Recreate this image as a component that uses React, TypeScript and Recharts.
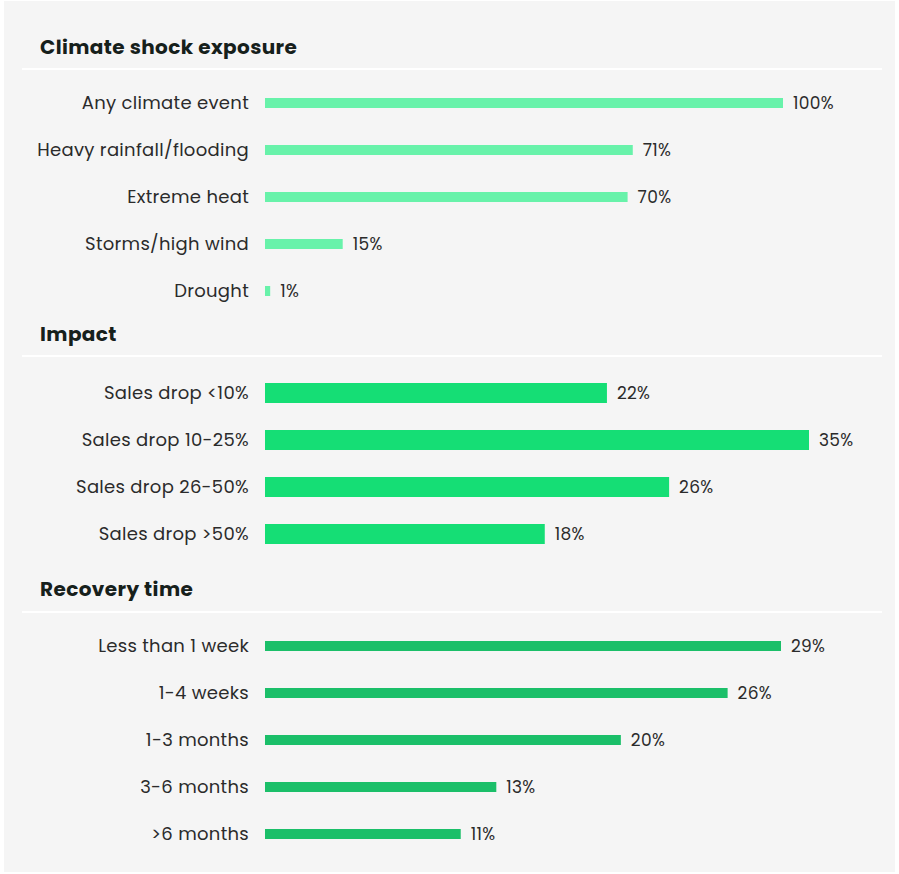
import React from 'react';
import { BarChart, Bar, XAxis, YAxis, LabelList } from 'recharts';

const exposureLabels = ['Any climate event', 'Heavy rainfall/flooding', 'Extreme heat', 'Storms/high wind', 'Drought'];
const exposureValues = [100, 71, 70, 15, 1];

const impactLabels = ['Sales drop <10%', 'Sales drop 10-25%', 'Sales drop 26-50%', 'Sales drop >50%'];
const impactValues = [22, 35, 26, 18];

const recoveryLabels = ['Less than 1 week', '1-4 weeks', '1-3 months', '3-6 months', '>6 months'];
const recoveryValues = [29, 26, 20, 13, 11];

const FONT = 'Poppins, Inter, "Noto Sans", sans-serif';
const TEXT = '#2b2b2b';

const toRows = (labels: string[], values: number[]) =>
  labels.map((name, i) => ({ name, value: values[i] }));

interface SectionProps {
  title: string;
  titleY: number;
  lineY: number;
  chartY: number;
  rows: { name: string; value: number }[];
  color: string;
  barSize: number;
  rightMargin: number;
}

const Section: React.FC<SectionProps> = ({ title, titleY, lineY, chartY, rows, color, barSize, rightMargin }) => {
  const height = rows.length * 47;
  return (
    <>
      <div
        style={{
          position: 'absolute',
          left: 40,
          top: titleY - 14,
          height: 28,
          lineHeight: '28px',
          fontFamily: FONT,
          fontWeight: 700,
          fontSize: 20,
          color: '#16201b',
          letterSpacing: 0.4,
        }}
      >
        {title}
      </div>
      <div style={{ position: 'absolute', left: 22, top: lineY - 1, width: 860, height: 2, background: '#ffffff' }} />
      <div style={{ position: 'absolute', left: 0, top: chartY }}>
        <BarChart
          width={899}
          height={height}
          data={rows}
          layout="vertical"
          margin={{ top: 0, right: rightMargin, bottom: 0, left: 0 }}
        >
          <XAxis type="number" hide domain={[0, 'dataMax']} />
          <YAxis
            type="category"
            dataKey="name"
            width={265}
            axisLine={false}
            tickLine={false}
            tickSize={0}
            tickMargin={16}
            interval={0}
            tick={{ fill: TEXT, fontSize: 18, fontFamily: FONT, letterSpacing: 0.3 }}
          />
          <Bar dataKey="value" fill={color} barSize={barSize} isAnimationActive={false}>
            <LabelList
              dataKey="value"
              position="right"
              offset={10}
              formatter={(v: number) => `${v}%`}
              style={{ fill: TEXT, fontSize: 17, fontFamily: FONT, letterSpacing: 0.3 }}
            />
          </Bar>
        </BarChart>
      </div>
    </>
  );
};

export default function App() {
  return (
    <div style={{ position: 'absolute', left: 0, top: 0, width: 899, height: 874, background: '#ffffff' }}>
      <div style={{ position: 'absolute', left: 4, top: 1, width: 891, height: 871, background: '#f5f5f5' }} />
      <Section
        title="Climate shock exposure"
        titleY={47}
        lineY={69}
        chartY={79}
        rows={toRows(exposureLabels, exposureValues)}
        color="#68f2aa"
        barSize={10}
        rightMargin={116}
      />
      <Section
        title="Impact"
        titleY={334}
        lineY={356}
        chartY={369}
        rows={toRows(impactLabels, impactValues)}
        color="#15de75"
        barSize={20}
        rightMargin={90}
      />
      <Section
        title="Recovery time"
        titleY={589}
        lineY={612}
        chartY={622}
        rows={toRows(recoveryLabels, recoveryValues)}
        color="#1bbf69"
        barSize={10}
        rightMargin={118}
      />
    </div>
  );
}
